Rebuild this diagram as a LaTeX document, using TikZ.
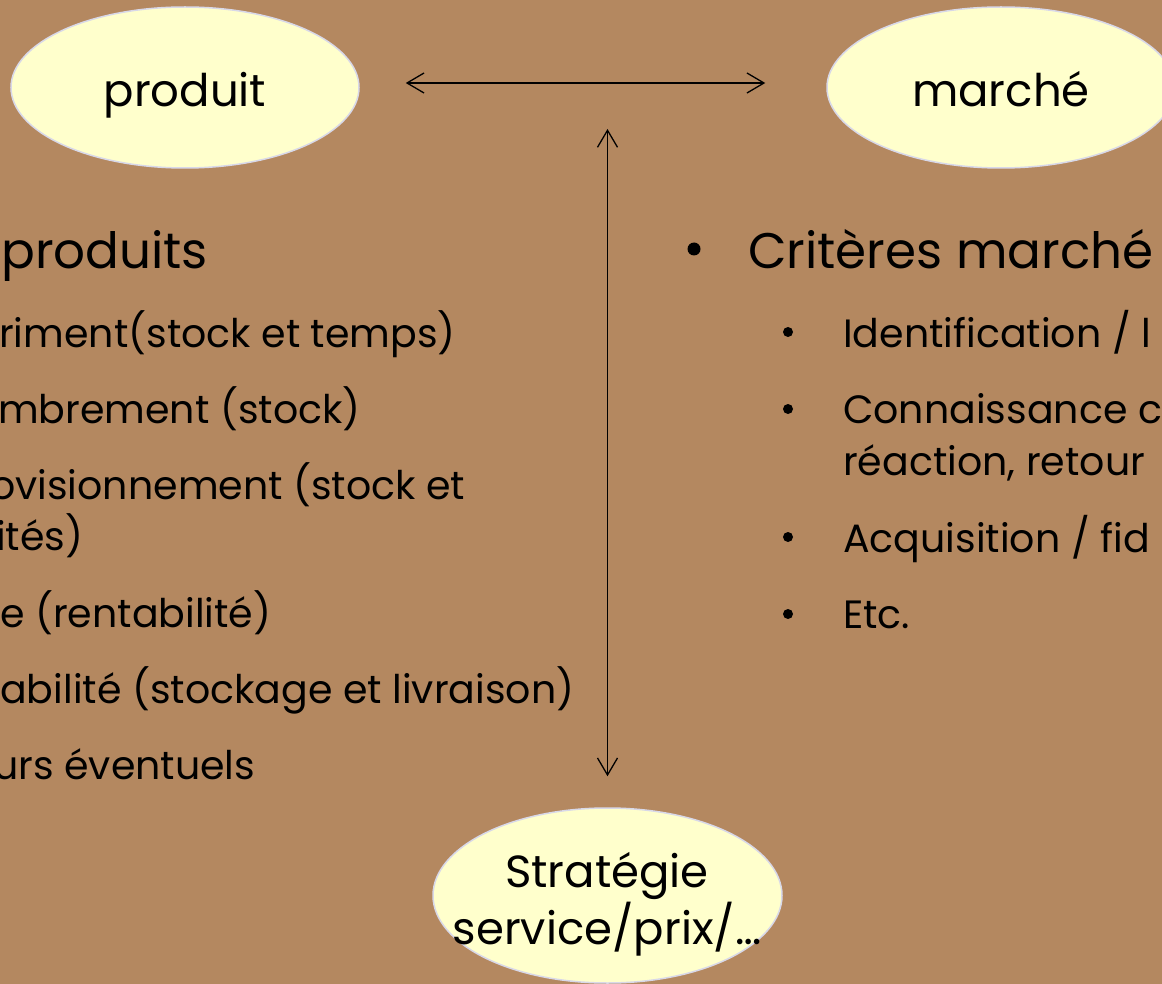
\documentclass[tikz,border=0pt]{standalone}
\usepackage{fontspec}
\setmainfont{Poppins}
\usetikzlibrary{shapes.geometric,arrows.meta}
\definecolor{bg}{RGB}{180,136,96}
\definecolor{ell}{RGB}{255,255,204}
\definecolor{ellborder}{RGB}{216,216,232}
\begin{document}
\begin{tikzpicture}[x=1pt,y=-1pt,
  oval/.style={ellipse, fill=ell, draw=ellborder, line width=1.5pt, minimum width=348pt, minimum height=161pt, inner sep=0pt},
  ovaltext/.style={font=\fontsize{45}{57}\selectfont, align=center, inner sep=0pt, anchor=base},
  arr/.style={line width=1.3pt, {Straight Barb[length=17pt,width=20pt]}-{Straight Barb[length=17pt,width=20pt]}},
  lvlone/.style={anchor=base west, inner sep=0pt, font=\fontsize{50}{60}\selectfont},
  lvltwo/.style={anchor=base west, inner sep=0pt, font=\fontsize{39.5}{52}\selectfont},
  bulone/.style={circle, fill=black, inner sep=0pt, minimum size=13pt},
  bultwo/.style={circle, fill=black, inner sep=0pt, minimum size=10pt}
]
\useasboundingbox (0,0) rectangle (1162,984);
\clip (0,0) rectangle (1162,984);
\fill[bg] (0,0) rectangle (1162,984);

% ellipses
\node[oval] (produit) at (185,87.5) {};
\node[ovaltext] (produittext) at (185,107) {produit};
\node[oval] (marche) at (1001,87.5) {};
\node[ovaltext] (marchetext) at (1001,107) {marché};
\node[oval, minimum height=175pt, minimum width=349pt] (strategie) at (607.5,895.5) {};
\node[ovaltext] (strattop) at (607,887) {Stratégie};
\node[ovaltext] (stratbot) at (607,944) {service/prix/…};

% arrows
\draw[arr] ([xshift=46pt,yshift=4.5pt]produit.east) -- ([xshift=-61pt,yshift=4.5pt]marche.west);
\coordinate (vtop) at (607.5,129);
\draw[arr, shorten >=31pt] (vtop) -- (strategie.north);

% left block
\node[lvlone] (lp) at (1,269) {produits};
\node[lvltwo] (l1) at (-1,347) {riment(stock et temps)};
\node[lvltwo] (l2) at (-2,423) {mbrement (stock)};
\node[lvltwo] (l3) at (-10,499) {ovisionnement (stock et};
\node[lvltwo] (l3b) at (-4,550) {ités)};
\node[lvltwo] (l4) at (0,627) {e (rentabilité)};
\node[lvltwo] (l5) at (0,703) {abilité (stockage et livraison)};
\node[lvltwo] (l6) at (-7,779) {urs éventuels};

% right block
\node[bulone] (rb) at (694,249) {};
\node[lvlone] (rt) at (748,269) {Critères marché};
\node[bultwo] (rb1) at (788,332) {};
\node[lvltwo] (r1) at (843,347) {Identification / l};
\node[bultwo] (rb2) at (788,409) {};
\node[lvltwo] (r2) at (843,423) {Connaissance c};
\node[lvltwo] (r2b) at (843,475) {réaction, retour};
\node[bultwo] (rb3) at (788,537) {};
\node[lvltwo] (r3) at (843,552) {Acquisition / fid};
\node[bultwo] (rb4) at (788,614) {};
\node[lvltwo] (r4) at (843,628) {Etc.};
\end{tikzpicture}
\end{document}
